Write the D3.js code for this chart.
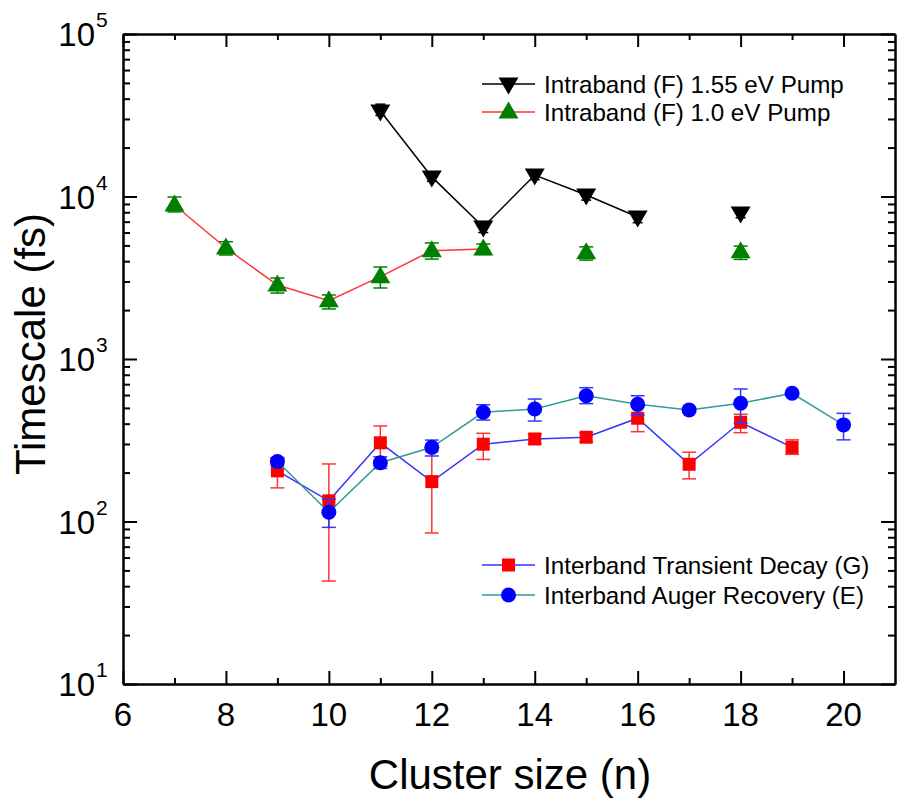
<!DOCTYPE html>
<html><head><meta charset="utf-8">
<script src="https://cdn.jsdelivr.net/npm/d3@7"></script>
<style>body{margin:0;background:#fff}</style>
</head><body>
<svg id="c" width="897" height="798"></svg>
<script>
// ---- data ----
const xTicks = [6, 8, 10, 12, 14, 16, 18, 20];
const xMinor = [7, 9, 11, 13, 15, 17, 19];
const yTickExps = [1, 2, 3, 4, 5];

// Intraband (F) 1.55 eV Pump
const nF155 = [11, 12, 13, 14, 15, 16, 18];
const vF155 = [33600, 13200, 6490, 13560, 10210, 7480, 7910];
const loF155 = [31500, 12400, 6000, 12700, 9500, 6900, 7400];
const hiF155 = [37000, 14200, 7000, 14600, 10900, 8000, 8400];

// Intraband (F) 1.0 eV Pump
const nF10 = [7, 8, 9, 10, 11, 12, 13, 15, 18];
const vF10 = [8870, 4820, 2850, 2285, 3210, 4640, 4750, 4510, 4570];
const loF10 = [8040, 4365, 2546, 2032, 2735, 4120, 4400, 4060, 4100];
const hiF10 = [9930, 5270, 3150, 2477, 3680, 5180, 5100, 4900, 4950];

// Interband Transient Decay (G)
const nG = [9, 10, 11, 12, 13, 14, 15, 16, 17, 18, 19];
const vG = [205, 134, 305, 176, 299, 322, 330, 432, 225, 408, 286];
const loG = [161, 43, 220, 85, 241, 300, 310, 357, 183, 352, 259];
const hiG = [247, 226, 387, 269, 349, 345, 352, 508, 267, 457, 318];

// Interband Auger Recovery (E)
const nE = [9, 10, 11, 12, 13, 14, 15, 16, 17, 18, 19, 20];
const vE = [234, 114, 230, 286, 470, 492, 594, 526, 486, 534, 615, 393];
const loE = [222, 92, 212, 253, 421, 415, 531, 452, 470, 402, 600, 318];
const hiE = [245, 137, 250, 317, 523, 567, 666, 594, 500, 654, 630, 463];

// ---- layout ----
const L = 123, R = 895, T = 34, B = 684;
const svg = d3.select("#c");
const x = d3.scaleLinear().domain([6, 21]).range([L, R]);
const y = d3.scaleLog().domain([10, 1e5]).range([B, T]);
const FONT = "Liberation Sans, Arial, sans-serif";

const series = [
  {n: nG, v: vG, lo: loG, hi: hiG, line: "#3535ff", err: "#ff3535", fill: "#ff0000", shape: "square", cap: 7, name: "Interband Transient Decay (G)"},
  {n: nE, v: vE, lo: loE, hi: hiE, line: "#339999", err: "#3535ff", fill: "#0000ff", shape: "circle", cap: 7, name: "Interband Auger Recovery (E)"},
  {n: nF10, v: vF10, lo: loF10, hi: hiF10, line: "#ff3535", err: "#008000", fill: "#008000", shape: "up", cap: 7, name: "Intraband (F) 1.0 eV Pump"},
  {n: nF155, v: vF155, lo: loF155, hi: hiF155, line: "#000000", err: "#000000", fill: "#000000", shape: "down", cap: 5, name: "Intraband (F) 1.55 eV Pump"}
];

function marker(g, shape, cx, cy, fill) {
  if (shape === "square") {
    g.append("rect").attr("x", cx - 6.5).attr("y", cy - 6.5).attr("width", 13).attr("height", 13).attr("fill", fill);
  } else if (shape === "circle") {
    g.append("circle").attr("cx", cx).attr("cy", cy).attr("r", 7.5).attr("fill", fill);
  } else if (shape === "up") {
    g.append("path").attr("d", `M${cx},${cy - 10.5}L${cx + 10},${cy + 6.5}L${cx - 10},${cy + 6.5}Z`).attr("fill", fill);
  } else {
    g.append("path").attr("d", `M${cx},${cy + 10.5}L${cx + 10},${cy - 6.5}L${cx - 10},${cy - 6.5}Z`).attr("fill", fill);
  }
}

const lineGen = d3.line().x(d => x(d.n)).y(d => y(d.v));

series.forEach(s => {
  const pts = s.n.map((n, i) => ({n, v: s.v[i], lo: s.lo[i], hi: s.hi[i]}));
  const segs = [];
  let cur = [];
  pts.forEach((p, i) => {
    if (i > 0 && p.n - pts[i - 1].n > 1) { segs.push(cur); cur = []; }
    cur.push(p);
  });
  segs.push(cur);
  const g = svg.append("g");
  segs.filter(sg => sg.length > 1).forEach(sg => {
    g.append("path").attr("d", lineGen(sg)).attr("fill", "none")
      .attr("stroke", s.line).attr("stroke-width", 1.5);
  });
  pts.forEach(p => {
    const cx = x(p.n);
    g.append("line").attr("x1", cx).attr("x2", cx).attr("y1", y(p.lo)).attr("y2", y(p.hi))
      .attr("stroke", s.err).attr("stroke-width", 1.5);
    [p.lo, p.hi].forEach(e => {
      g.append("line").attr("x1", cx - s.cap).attr("x2", cx + s.cap).attr("y1", y(e)).attr("y2", y(e))
        .attr("stroke", s.err).attr("stroke-width", 1.5);
    });
  });
  pts.forEach(p => marker(g, s.shape, x(p.n), y(p.v), s.fill));
});

// ---- axes ----
const yMinor = [];
for (let e = 1; e < 5; e++) for (let k = 2; k <= 9; k++) yMinor.push(k * Math.pow(10, e));
const yMajor = yTickExps.map(e => Math.pow(10, e));

function styleAxis(g) {
  g.selectAll("path.domain").attr("stroke", "#000").attr("stroke-width", 2);
  g.selectAll(".tick line").attr("stroke", "#000").attr("stroke-width", 2);
  g.selectAll(".tick text").remove();
}
svg.append("g").attr("transform", `translate(0,${B})`)
  .call(d3.axisBottom(x).tickValues(xTicks).tickSize(-13).tickSizeOuter(0)).call(styleAxis);
svg.append("g").attr("transform", `translate(0,${B})`)
  .call(d3.axisBottom(x).tickValues(xMinor).tickSize(-6).tickSizeOuter(0)).call(styleAxis);
svg.append("g").attr("transform", `translate(0,${T})`)
  .call(d3.axisTop(x).tickValues(xTicks).tickSize(-13).tickSizeOuter(0)).call(styleAxis);
svg.append("g").attr("transform", `translate(0,${T})`)
  .call(d3.axisTop(x).tickValues(xMinor).tickSize(-6).tickSizeOuter(0)).call(styleAxis);
svg.append("g").attr("transform", `translate(${L},0)`)
  .call(d3.axisLeft(y).tickValues(yMajor).tickSize(-14).tickSizeOuter(0)).call(styleAxis);
svg.append("g").attr("transform", `translate(${L},0)`)
  .call(d3.axisLeft(y).tickValues(yMinor).tickSize(-7).tickSizeOuter(0)).call(styleAxis);
svg.append("g").attr("transform", `translate(${R},0)`)
  .call(d3.axisRight(y).tickValues(yMajor).tickSize(-14).tickSizeOuter(0)).call(styleAxis);
svg.append("g").attr("transform", `translate(${R},0)`)
  .call(d3.axisRight(y).tickValues(yMinor).tickSize(-7).tickSizeOuter(0)).call(styleAxis);

// tick labels
xTicks.forEach(t => {
  svg.append("text").attr("x", x(t)).attr("y", 726).attr("text-anchor", "middle")
    .attr("font-family", FONT).attr("font-size", 33).text(t);
});
yTickExps.forEach(e => {
  const yy = y(Math.pow(10, e));
  svg.append("text").attr("x", 95).attr("y", yy + 12).attr("text-anchor", "end")
    .attr("font-family", FONT).attr("font-size", 33).text("10");
  svg.append("text").attr("x", 96).attr("y", yy - 7).attr("text-anchor", "start")
    .attr("font-family", FONT).attr("font-size", 21).text(e);
});

// titles
svg.append("text").attr("x", (L + R) / 2 + 1).attr("y", 789).attr("text-anchor", "middle")
  .attr("font-family", FONT).attr("font-size", 42).text("Cluster size (n)");
svg.append("text").attr("transform", `translate(45,${(T + B) / 2 - 15}) rotate(-90)`).attr("text-anchor", "middle")
  .attr("font-family", FONT).attr("font-size", 42).text("Timescale (fs)");

// legends
const legendRows = [
  {s: series[3], y: 84},
  {s: series[2], y: 112},
  {s: series[0], y: 565},
  {s: series[1], y: 595}
];
legendRows.forEach(r => {
  const g = svg.append("g");
  g.append("line").attr("x1", 482).attr("x2", 535).attr("y1", r.y).attr("y2", r.y)
    .attr("stroke", r.s.line).attr("stroke-width", 1.5);
  marker(g, r.s.shape, 508.5, r.y, r.s.fill);
  g.append("text").attr("x", 544).attr("y", r.y + 8.5).attr("font-family", FONT)
    .attr("font-size", 24.2).text(r.s.name);
});
</script>
</body></html>
